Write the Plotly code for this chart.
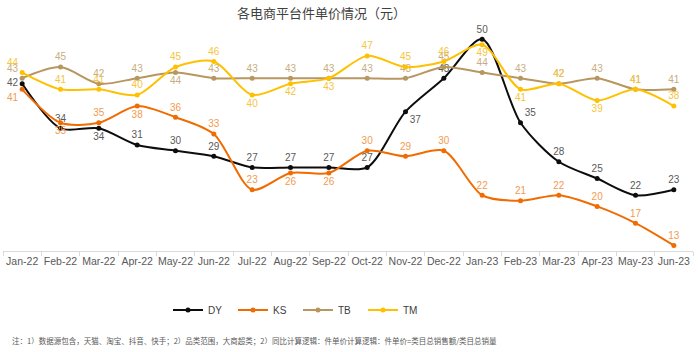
import plotly.graph_objects as go

months = ["Jan-22","Feb-22","Mar-22","Apr-22","May-22","Jun-22","Jul-22","Aug-22","Sep-22",
          "Oct-22","Nov-22","Dec-22","Jan-23","Feb-23","Mar-23","Apr-23","May-23","Jun-23"]
dy = [42,34,34,31,30,29,27,27,27,27,37,43,50,35,28,25,22,23]
ks = [41,35,35,38,36,33,23,26,26,30,29,30,22,21,22,20,17,13]
tb = [43,45,42,43,44,43,43,43,43,43,43,45,44,43,42,43,41,41]
tm = [44,41,41,40,45,46,40,42,43,47,45,46,49,41,42,39,41,38]

T, B = "top center", "bottom center"
dy_pos = ["middle left", T, B, T, T, T, T, T, T, T, "bottom right", T, T, "top right", T, T, T, T]
ks_pos = ["bottom left", B, T, B, T, T, T, B, B, T, T, T, T, T, T, T, T, T]
tb_pos = ["top left", T, T, T, B, T, T, T, T, T, T, T, T, T, T, T, T, T]
tm_pos = ["top left", T, T, T, T, T, B, B, B, T, T, T, B, B, T, B, T, T]

series = [
    ("DY", dy, "#0d0d0d", "#595959", dy_pos),
    ("KS", ks, "#f06b00", "#f39a4f", ks_pos),
    ("TB", tb, "#b89660", "#c8ac80", tb_pos),
    ("TM", tm, "#ffc000", "#f5c540", tm_pos),
]

fig = go.Figure()
for name, vals, col, tcol, pos in series:
    fig.add_trace(go.Scatter(
        x=months, y=vals, name=name, mode="lines+markers+text",
        line=dict(color=col, width=2, shape="spline", smoothing=0.8),
        marker=dict(color=col, size=5),
        text=[str(v) for v in vals], textposition=pos,
        textfont=dict(size=10, color=tcol, family="Liberation Sans, Arial"),
        cliponaxis=False,
    ))

fig.update_layout(
    width=698, height=352,
    margin=dict(l=3, r=5, t=28, b=101),
    paper_bgcolor="white", plot_bgcolor="white",
    font=dict(family="Liberation Sans, Arial, Noto Sans CJK SC", color="#595959"),
    showlegend=True,
    legend=dict(orientation="h", x=(168 - 3) / 690, xanchor="left", y=-0.2, yanchor="top",
                font=dict(size=10, color="#404040"), itemwidth=30, entrywidth=20,
                traceorder="normal"),
    xaxis=dict(type="category", showgrid=False, showline=True, linecolor="#d9d9d9",
               linewidth=1, ticks="outside", tickson="boundaries", ticklen=4,
               tickcolor="#d9d9d9", tickfont=dict(size=10.5, color="#595959"),
               tickangle=0, range=[-0.5, 17.5]),
    yaxis=dict(visible=False, range=[12, 52]),
)

fig.add_annotation(text="各电商平台件单价情况（元）", xref="paper", yref="paper",
                   x=(321 - 3) / 690, y=1, yshift=16, xanchor="center", yanchor="middle",
                   showarrow=False,
                   font=dict(size=13, color="#404040", family="Noto Sans CJK SC"))
fig.add_annotation(text="注：1）数据源包含，天猫、淘宝、抖音、快手；2）品类范围，大商超类；2）同比计算逻辑：件单价计算逻辑：件单价=类目总销售额/类目总销量",
                   xref="paper", yref="paper", x=(10 - 3) / 690, y=-0.4, yshift=0,
                   xanchor="left", yanchor="middle", showarrow=False,
                   font=dict(size=7.5, color="#595959", family="Noto Sans CJK SC"))

fig.write_html("out.html")
